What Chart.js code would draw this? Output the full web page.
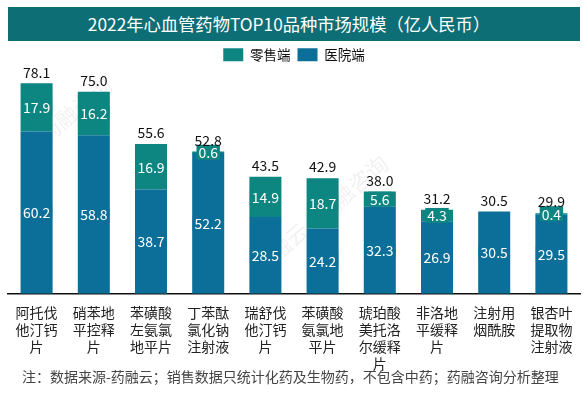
<!DOCTYPE html>
<html>
<head>
<meta charset="utf-8">
<script src="https://cdn.jsdelivr.net/npm/chart.js@4"></script>
<style>
  body { margin: 0; background: #fff; font-family: "Noto Sans CJK SC", sans-serif; }
  #wrap { position: relative; width: 588px; height: 393px; }
  #title {
    position: absolute; left: 8px; top: 7px; width: 562px; height: 34px; padding-right: 10px;
    background: #0e6e76; color: #fff; font-size: 17.3px; line-height: 34px; text-align: center;
  }
  #note { position: absolute; left: 22px; top: 366px; font-size: 14px; color: #444; white-space: nowrap; }
</style>
</head>
<body>
<div id="wrap">
  <canvas id="chart" width="588" height="393"></canvas>
  <div id="title">2022年心血管药物TOP10品种市场规模（亿人民币）</div>
  <div id="note">注：数据来源-药融云；销售数据只统计化药及生物药，不包含中药；药融咨询分析整理</div>
</div>
<script>
// drug names, one line per 3 chars as in the source
const drugs = [
  ['阿托伐', '他汀钙', '片'],
  ['硝苯地', '平控释', '片'],
  ['苯磺酸', '左氨氯', '地平片'],
  ['丁苯酞', '氯化钠', '注射液'],
  ['瑞舒伐', '他汀钙', '片'],
  ['苯磺酸', '氨氯地', '平片'],
  ['琥珀酸', '美托洛', '尔缓释', '片'],
  ['非洛地', '平缓释', '片'],
  ['注射用', '烟酰胺'],
  ['银杏叶', '提取物', '注射液']
];
const hospital = [60.2, 58.8, 38.7, 52.2, 28.5, 24.2, 32.3, 26.9, 30.5, 29.5];
const retail = [17.9, 16.2, 16.9, 0.6, 14.9, 18.7, 5.6, 4.3, 0, 0.4];
const totals = ['78.1', '75.0', '55.6', '52.8', '43.5', '42.9', '38.0', '31.2', '30.5', '29.9'];

const TEAL = '#0d8580';
const BLUE = '#0b6f99';
const FONT = '"Noto Sans CJK SC", sans-serif';

const labelsPlugin = {
  id: 'valueLabels',
  beforeDraw(chart) {
    // faint watermark
    const ctx = chart.ctx;
    ctx.save();
    ctx.fillStyle = 'rgba(0,0,0,0.06)';
    ctx.font = '22px ' + FONT;
    ctx.textAlign = 'center';
    ctx.textBaseline = 'middle';
    [[75, 110, '药融咨询'], [320, 215, '药融云 | 药融咨询']].forEach(([x, y, t]) => {
      ctx.save();
      ctx.translate(x, y);
      ctx.rotate(-0.7);
      ctx.fillText(t, 0, 0);
      ctx.restore();
    });
    ctx.restore();
  },
  afterDatasetsDraw(chart) {
    const ctx = chart.ctx;
    ctx.save();
    ctx.font = '14px ' + FONT;
    ctx.textAlign = 'center';
    ctx.textBaseline = 'middle';
    chart.data.datasets.forEach((ds, di) => {
      const meta = chart.getDatasetMeta(di);
      meta.data.forEach((bar, i) => {
        const v = ds.data[i];
        if (!v) return;
        const txt = v.toFixed(1);
        const y = (bar.y + bar.base) / 2;
        const w = ctx.measureText(txt).width + 4;
        ctx.fillStyle = ds.backgroundColor;
        ctx.fillRect(bar.x - w / 2, y - 7.5, w, 15);
        ctx.fillStyle = '#fff';
        ctx.fillText(txt, bar.x, y + 0.5);
      });
    });
    // totals above each stack
    const top = chart.getDatasetMeta(chart.data.datasets.length - 1).data;
    const base = chart.getDatasetMeta(0).data;
    ctx.fillStyle = '#111';
    ctx.textBaseline = 'bottom';
    totals.forEach((t, i) => {
      const y = Math.min(top[i].y, base[i].y);
      ctx.fillText(t, base[i].x, y - 4);
    });
    ctx.restore();
  }
};

new Chart(document.getElementById('chart'), {
  type: 'bar',
  data: {
    labels: drugs,
    datasets: [
      { label: '医院端', data: hospital, backgroundColor: BLUE },
      { label: '零售端', data: retail, backgroundColor: TEAL }
    ]
  },
  options: {
    responsive: false,
    animation: false,
    layout: { padding: { top: 41, left: 8, right: 8, bottom: 11 } },
    datasets: { bar: { categoryPercentage: 1, barPercentage: 0.56 } },
    scales: {
      x: {
        stacked: true,
        grid: { display: false, drawTicks: false, tickLength: 0 },
        border: { color: '#111', width: 1.5 },
        ticks: {
          autoSkip: false, maxRotation: 0, padding: 10,
          color: '#222', font: { family: FONT, size: 14, lineHeight: 1.22 }
        }
      },
      y: { stacked: true, display: false, min: 0, max: 82.5 }
    },
    plugins: {
      legend: {
        reverse: true,
        labels: {
          boxWidth: 20, boxHeight: 13, padding: 7,
          color: '#111', font: { family: FONT, size: 13.5 }
        }
      },
      tooltip: { enabled: false }
    }
  },
  plugins: [labelsPlugin]
});
</script>
</body>
</html>
